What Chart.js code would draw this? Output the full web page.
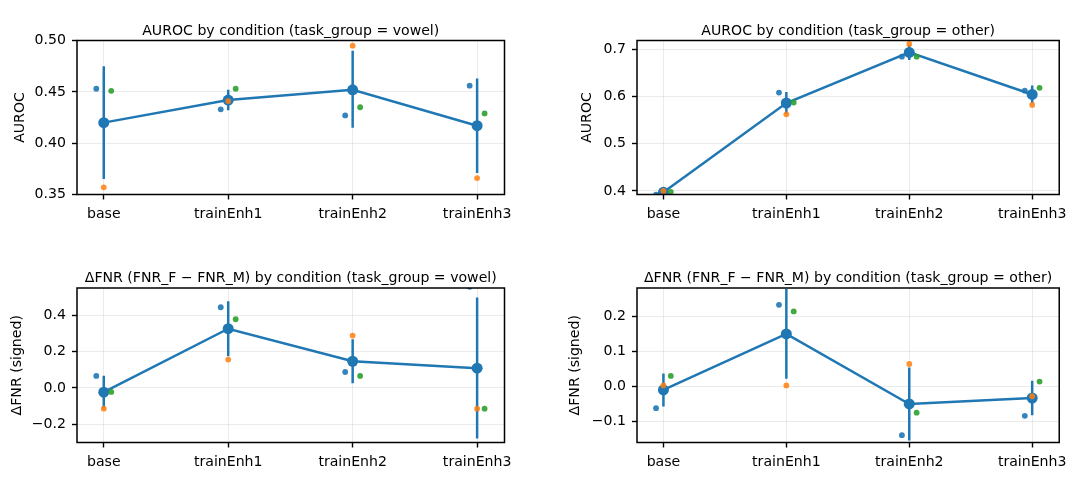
<!DOCTYPE html>
<html>
<head>
<meta charset="utf-8">
<script src="https://cdn.jsdelivr.net/npm/chart.js@4.4.0/dist/chart.umd.min.js"></script>
<style>
  body { margin: 0; background: #fff; width: 1073px; height: 503px; position: relative; overflow: hidden; }
  .panel { position: absolute; }
</style>
</head>
<body>
<div class="panel" style="left:0px;top:0px;width:530px;height:235px"><canvas id="c1"></canvas></div>
<div class="panel" style="left:540px;top:0px;width:533px;height:235px"><canvas id="c2"></canvas></div>
<div class="panel" style="left:0px;top:250px;width:530px;height:233px"><canvas id="c3"></canvas></div>
<div class="panel" style="left:540px;top:250px;width:533px;height:233px"><canvas id="c4"></canvas></div>
<script>
var categories = ['base', 'trainEnh1', 'trainEnh2', 'trainEnh3'];

// AUROC, task_group = vowel
var aurocVowelRun1 = [0.453, 0.433, 0.427, 0.456];
var aurocVowelRun2 = [0.357, 0.441, 0.495, 0.366];
var aurocVowelRun3 = [0.451, 0.453, 0.435, 0.429];
var aurocVowelMean = [0.420, 0.442, 0.452, 0.417];
var aurocVowelLow  = [0.365, 0.432, 0.415, 0.371];
var aurocVowelHigh = [0.475, 0.452, 0.490, 0.463];
var aurocVowelTicks = [0.35, 0.40, 0.45, 0.50];

// AUROC, task_group = other
var aurocOtherRun1 = [0.392, 0.608, 0.684, 0.612];
var aurocOtherRun2 = [0.400, 0.562, 0.711, 0.582];
var aurocOtherRun3 = [0.398, 0.587, 0.684, 0.618];
var aurocOtherMean = [0.397, 0.586, 0.693, 0.604];
var aurocOtherLow  = [0.393, 0.563, 0.677, 0.585];
var aurocOtherHigh = [0.401, 0.609, 0.709, 0.623];
var aurocOtherTicks = [0.4, 0.5, 0.6, 0.7];

// dFNR, task_group = vowel
var fnrVowelRun1 = [0.066, 0.444, 0.088, 0.556];
var fnrVowelRun2 = [-0.114, 0.156, 0.288, -0.114];
var fnrVowelRun3 = [-0.022, 0.378, 0.066, -0.114];
var fnrVowelMean = [-0.023, 0.326, 0.147, 0.109];
var fnrVowelLow  = [-0.113, 0.175, 0.026, -0.278];
var fnrVowelHigh = [0.067, 0.477, 0.268, 0.498];
var fnrVowelTicks = [-0.2, 0.0, 0.2, 0.4];

// dFNR, task_group = other
var fnrOtherRun1 = [-0.062, 0.233, -0.139, -0.084];
var fnrOtherRun2 = [0.003, 0.003, 0.064, -0.028];
var fnrOtherRun3 = [0.030, 0.214, -0.075, 0.014];
var fnrOtherMean = [-0.010, 0.150, -0.050, -0.033];
var fnrOtherLow  = [-0.057, 0.022, -0.154, -0.082];
var fnrOtherHigh = [0.037, 0.278, 0.054, 0.016];
var fnrOtherTicks = [-0.1, 0.0, 0.1, 0.2];

var runOffsets = [-0.06, 0, 0.06];
var runColors = ['rgba(31,119,180,0.9)', 'rgba(255,127,14,0.85)', 'rgba(44,160,44,0.9)'];
var meanColor = '#1f77b4';
var fontFamily = "'DejaVu Sans', sans-serif";
var fontSize = 14.1;

var framePlugin = {
  id: 'frame',
  afterDraw: function(chart) {
    var a = chart.chartArea, ctx = chart.ctx;
    ctx.save();
    ctx.strokeStyle = '#000';
    ctx.lineWidth = 1.5;
    ctx.strokeRect(a.left, a.top, a.right - a.left, a.bottom - a.top);
    ctx.restore();
  }
};

// axes title centred over the plot area, like matplotlib
var panelTitle = {
  id: 'panelTitle',
  afterDraw: function(chart, args, opts) {
    var a = chart.chartArea, ctx = chart.ctx;
    ctx.save();
    ctx.font = fontSize + 'px ' + fontFamily;
    ctx.fillStyle = '#000';
    ctx.textAlign = 'center';
    ctx.textBaseline = 'alphabetic';
    ctx.fillText(opts.text, (a.left + a.right) / 2, a.top - 6);
    ctx.restore();
  }
};

function fmt(v, dec) {
  var s = Math.abs(v).toFixed(dec);
  return (v < -1e-9 ? '\u2212' : '') + s;
}

function makePanel(id, p) {
  var runs = [p.run1, p.run2, p.run3];
  var datasets = [];
  runs.forEach(function(vals, r) {
    datasets.push({
      data: vals.map(function(v, i) { return {x: i + runOffsets[r], y: v}; }),
      showLine: false,
      pointRadius: 2.9,
      pointBorderWidth: 0,
      pointBackgroundColor: runColors[r],
      borderColor: runColors[r]
    });
  });
  datasets.push({
    data: p.mean.map(function(v, i) { return {x: i, y: v}; }),
    borderColor: meanColor,
    borderWidth: 2.5,
    pointRadius: 5.5,
    pointBorderWidth: 0,
    pointBackgroundColor: meanColor
  });
  var err = [];
  p.low.forEach(function(lo, i) {
    err.push({x: i, y: lo}, {x: i, y: p.high[i]}, {x: i, y: null});
  });
  datasets.push({
    data: err,
    borderColor: meanColor,
    borderWidth: 2.5,
    pointRadius: 0,
    spanGaps: false
  });

  var font = {family: fontFamily, size: fontSize};
  var grid = {color: 'rgba(0,0,0,0.1)', lineWidth: 0.8, tickColor: '#000', tickLength: 5, tickWidth: 1.4};

  new Chart(document.getElementById(id), {
    type: 'line',
    data: {datasets: datasets},
    plugins: [framePlugin, panelTitle],
    options: {
      responsive: true,
      maintainAspectRatio: false,
      animation: false,
      events: [],
      layout: {padding: {top: p.padTop, right: p.padRight, left: 0, bottom: 0}},
      plugins: {
        legend: {display: false},
        tooltip: {enabled: false},
        panelTitle: {text: p.title}
      },
      scales: {
        x: {
          type: 'linear',
          min: -0.215,
          max: 3.22,
          afterBuildTicks: function(s) { s.ticks = categories.map(function(c, i) { return {value: i}; }); },
          afterFit: function(s) { s.height = 40.5; },
          ticks: {
            autoSkip: false, maxRotation: 0, padding: 6, color: '#000', font: font,
            callback: function(v) { return categories[Math.round(v)]; }
          },
          grid: grid,
          border: {display: false}
        },
        y: {
          type: 'linear',
          min: p.yMin,
          max: p.yMax,
          afterBuildTicks: function(s) { s.ticks = p.ticks.map(function(v) { return {value: v}; }); },
          afterFit: function(s) { s.width = p.yWidth; },
          ticks: {
            padding: 6, color: '#000', font: font,
            callback: function(v) { return fmt(v, p.dec); }
          },
          title: {
            display: true, text: p.yLabel, color: '#000',
            font: {family: fontFamily, size: fontSize, lineHeight: 1.2},
            padding: {top: p.yTitlePad, bottom: 0}
          },
          grid: grid,
          border: {display: false}
        }
      }
    }
  });
}

makePanel('c1', {
  title: 'AUROC by condition (task_group = vowel)', yLabel: 'AUROC',
  run1: aurocVowelRun1, run2: aurocVowelRun2, run3: aurocVowelRun3,
  mean: aurocVowelMean, low: aurocVowelLow, high: aurocVowelHigh,
  ticks: aurocVowelTicks, dec: 2, yMin: 0.35, yMax: 0.50,
  padTop: 40.5, padRight: 25.5, yWidth: 77, yTitlePad: 11.5
});
makePanel('c2', {
  title: 'AUROC by condition (task_group = other)', yLabel: 'AUROC',
  run1: aurocOtherRun1, run2: aurocOtherRun2, run3: aurocOtherRun3,
  mean: aurocOtherMean, low: aurocOtherLow, high: aurocOtherHigh,
  ticks: aurocOtherTicks, dec: 1, yMin: 0.3924, yMax: 0.7182,
  padTop: 40.5, padRight: 8.5, yWidth: 97, yTitlePad: 39
});
makePanel('c3', {
  title: '\u0394FNR (FNR_F \u2212 FNR_M) by condition (task_group = vowel)', yLabel: '\u0394FNR (signed)',
  run1: fnrVowelRun1, run2: fnrVowelRun2, run3: fnrVowelRun3,
  mean: fnrVowelMean, low: fnrVowelLow, high: fnrVowelHigh,
  ticks: fnrVowelTicks, dec: 1, yMin: -0.30, yMax: 0.55,
  padTop: 38, padRight: 25.5, yWidth: 77, yTitlePad: 8.7
});
makePanel('c4', {
  title: '\u0394FNR (FNR_F \u2212 FNR_M) by condition (task_group = other)', yLabel: '\u0394FNR (signed)',
  run1: fnrOtherRun1, run2: fnrOtherRun2, run3: fnrOtherRun3,
  mean: fnrOtherMean, low: fnrOtherLow, high: fnrOtherHigh,
  ticks: fnrOtherTicks, dec: 1, yMin: -0.160, yMax: 0.281,
  padTop: 38, padRight: 8.5, yWidth: 97, yTitlePad: 26.7
});
</script>
</body>
</html>
